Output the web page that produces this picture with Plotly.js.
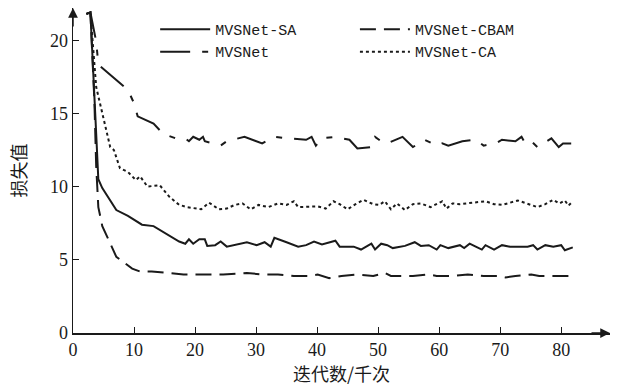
<!DOCTYPE html>
<html><head><meta charset="utf-8">
<script src="https://cdn.plot.ly/plotly-3.0.1.min.js"></script>
<style>html,body{margin:0;padding:0;background:#fff}#chart{width:620px;height:389px}</style>
</head><body><div id="chart"></div>
<script>
// MVSNet-SA (solid)
const saX = [2.2,2.85,3.8,4.15,4.8,6.1,7.1,9.0,11.3,13.2,15.5,17.4,18.4,19,19.7,20.7,21.6,22,23.3,24.2,25.2,27.2,28.5,30.1,31.4,32.4,33,35,36.9,38.2,39.5,40.8,42,43,43.7,45,46,47.2,48.9,49.5,50.5,51.5,52.4,54.4,56,57,58.3,59.6,60.2,61.5,63.4,64.1,65,66,67,67.6,69,70.3,71.6,74.5,75.4,76.1,77.4,78.7,80,80.6,81.9];
const saY = [21.8,21.9,13.6,10.5,9.9,9.1,8.4,8.0,7.4,7.3,6.7,6.25,6.1,6.4,6.1,6.4,6.4,5.95,6.0,6.25,5.9,6.1,6.2,6.0,6.2,5.9,6.5,6.2,5.9,6.0,6.25,6.05,6.2,6.3,5.9,5.9,5.9,5.7,6.1,5.7,6.1,6.0,5.8,5.95,6.2,5.95,6.0,5.7,6.0,5.8,6.0,5.8,6.1,5.9,5.7,6.0,5.7,6.0,5.9,5.9,6.0,5.7,6.0,5.9,6.0,5.65,5.85];

// MVSNet-CBAM (dashed)
const cbamX = [2.2,2.85,3.5,3.8,4.15,4.8,5.8,7.1,8.4,9.7,11,12.9,15.5,18.1,20.7,24.6,28.5,31,33.6,36.2,38.8,40.1,42,44,46.6,49.2,51.1,52.1,55.7,58.3,59.6,62.2,64.7,67.3,69.9,70.9,72.5,75.1,76.4,79,81.9];
const cbamY = [21.8,21.9,15.9,11.4,8.6,7.3,6.4,5.2,4.8,4.4,4.2,4.2,4.1,4.0,4.0,4.0,4.1,4.0,4.0,3.9,3.9,4.0,3.75,3.9,4.0,3.9,4.1,3.9,3.9,4.0,3.9,3.9,4.0,3.9,3.9,3.8,3.9,4.0,3.9,3.9,3.9];

// MVSNet (long dash + short dash)
const mvX = [2.2,2.85,3.8,4.1,4.5,7.1,9.0,10,10.6,13.2,14.8,16.8,18.4,19,19.7,20.7,21.3,21.6,24.2,25.2,28.1,31,33,35,38.2,39.1,39.8,40.8,43,45.3,46.6,48.9,49.5,50.5,51.5,54,55.7,57.6,59.6,60.5,61.5,63.8,66,67.3,69.3,70.3,72.5,73.5,74.1,75.1,76.1,78.4,79.6,80.3,81.9];
const mvY = [21.8,21.9,19.9,18.6,18.2,17.3,16.6,15.7,14.8,14.3,13.6,13.3,13.3,13.1,13.4,13.2,13.4,13.1,12.8,13.1,13.4,12.95,13.4,13.3,13.2,13.4,12.8,13.3,13.4,13.2,12.6,12.7,13.4,13.1,12.95,13.4,12.7,13.2,12.8,12.95,12.8,13.1,13.2,12.8,12.95,13.2,13.1,13.4,12.95,13.1,12.7,13.3,12.7,12.95,12.95];

// MVSNet-CA (dotted)
const caX = [2.2,2.85,3.8,4.5,5.4,6.1,6.7,7.7,9.0,10.3,11,12.2,14.2,15.8,17.4,18.7,21,22.3,23.9,25.2,26.5,27.8,29.1,30.4,32,33.6,35,36.2,36.9,38.8,40.1,41.4,42.7,43.7,45,46.3,47.6,49.2,50.2,51.1,52.1,53.1,54.4,55.7,57,58.6,59.6,60.5,61.2,62.2,63.4,66,67.6,69,70.3,72.9,74.5,76.1,77.4,78.7,79.7,80.6,81.2,81.9];
const caY = [21.8,21.9,16.8,15.5,13.9,12.7,12.5,11.25,11.0,10.45,10.7,10.0,10.1,9.3,8.75,8.6,8.45,8.9,8.45,8.5,8.75,8.85,8.45,8.75,8.6,8.85,8.75,9.0,8.6,8.6,8.65,8.5,9.0,8.8,8.45,8.8,9.1,8.8,8.75,9.0,8.45,8.85,8.4,8.8,8.85,8.6,8.8,9.0,8.5,8.85,8.8,8.9,9.0,8.8,8.75,9.05,8.85,8.6,8.8,9.1,8.85,9.05,8.7,9.0];

const names = ['MVSNet-SA','MVSNet-CBAM','MVSNet','MVSNet-CA'];
const xTicks = [0,10,20,30,40,50,60,70,80];
const yTicks = [0,5,10,15,20];

const col = '#1a1a1a';
const traces = [
  {x: saX, y: saY, name: names[0], legend:'legend', mode:'lines', line:{color:col, width:2, dash:'solid'}},
  {x: mvX, y: mvY, name: names[2], legend:'legend', mode:'lines', line:{color:col, width:2, dash:'30px,12px,6px,12px'}},
  {x: cbamX, y: cbamY, name: names[1], legend:'legend2', mode:'lines', line:{color:col, width:2, dash:'16px,8px'}},
  {x: caX, y: caY, name: names[3], legend:'legend2', mode:'lines', line:{color:col, width:2, dash:'3px,3px'}}
];

const legFont = {family:'Liberation Mono, DejaVu Sans Mono, monospace', size:15, color:col};
const layout = {
  width:620, height:389,
  margin:{l:73, r:10, t:8, b:56},
  paper_bgcolor:'#fff', plot_bgcolor:'#fff',
  showlegend:true,
  legend:{orientation:'v', x:0.153, y:0.985, xanchor:'left', yanchor:'top',
    itemwidth:50, font:legFont, bgcolor:'rgba(0,0,0,0)', traceorder:'normal'},
  legend2:{orientation:'v', x:0.525, y:0.985, xanchor:'left', yanchor:'top',
    itemwidth:50, font:legFont, bgcolor:'rgba(0,0,0,0)', traceorder:'normal'},
  xaxis:{range:[0,88], tickvals:xTicks, ticktext:xTicks.map(String),
    showline:true, linecolor:col, linewidth:1.5, showgrid:false, zeroline:false,
    ticks:'inside', ticklen:6, tickcolor:col,
    tickfont:{family:'Liberation Serif, serif', size:18, color:col},
    title:{text:'迭代数/千次', font:{family:'Noto Sans CJK SC', size:18, color:col}, standoff:8}},
  yaxis:{range:[0,22.2], tickvals:yTicks, ticktext:yTicks.map(String),
    showline:true, linecolor:col, linewidth:1.5, showgrid:false, zeroline:false,
    ticks:'inside', ticklen:6, tickcolor:col,
    tickfont:{family:'Liberation Serif, serif', size:18, color:col},
    title:{text:'损失值', font:{family:'Noto Sans CJK SC', size:18, color:col}, standoff:18}},
  annotations:[
    {xref:'paper', yref:'paper', x:0, y:1, ax:0, ay:20, showarrow:true, arrowhead:2, arrowsize:1.3, arrowwidth:1.5, arrowcolor:col, text:''},
    {xref:'paper', yref:'paper', x:1, y:0, ax:-20, ay:0, showarrow:true, arrowhead:2, arrowsize:1.3, arrowwidth:1.5, arrowcolor:col, text:''}
  ]
};
Plotly.newPlot('chart', traces, layout, {displayModeBar:false, staticPlot:true});
</script></body></html>
